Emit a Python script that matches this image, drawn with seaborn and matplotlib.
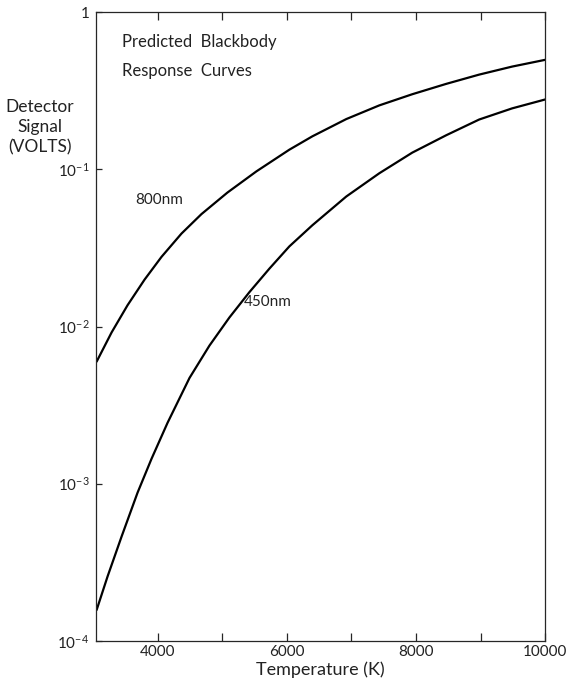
import numpy as np
import pandas as pd
import matplotlib
matplotlib.use('Agg')
import matplotlib.pyplot as plt
import seaborn as sns

# values (temperature in K, signal in volts)
temp_800 = [3057, 3289, 3536, 3799, 4062, 4371, 4680, 5082, 5531, 6041,
            6397, 6922, 7433, 7943, 8469, 8979, 9489, 10000]
volts_800 = [0.00598, 0.00918, 0.01368, 0.0199, 0.0278, 0.0391, 0.0520, 0.0713,
             0.0973, 0.1337, 0.1626, 0.2094, 0.2559, 0.3013, 0.3508, 0.4018,
             0.4519, 0.4989]

temp_450 = [3057, 3227, 3443, 3691, 3907, 4155, 4495, 4804, 5113, 5422,
            5732, 6041, 6397, 6922, 7433, 7943, 8469, 8979, 9489, 10000]
volts_450 = [1.57e-4, 2.57e-4, 4.60e-4, 8.77e-4, 1.44e-3, 2.44e-3, 4.71e-3, 7.57e-3,
             0.01143, 0.01656, 0.02339, 0.0324, 0.04416, 0.0673, 0.0946, 0.128,
             0.1652, 0.208, 0.2449, 0.279]

y_ticks = [1e-4, 1e-3, 1e-2, 1e-1, 1]
y_labels = ['$10^{-4}$', '$10^{-3}$', '$10^{-2}$', '$10^{-1}$', '1']
x_ticks = [4000, 5000, 6000, 7000, 8000, 9000, 10000]
x_labels = ['4000', '', '6000', '', '8000', '', '10000']

df = pd.concat([
    pd.DataFrame({'temp': temp_800, 'volts': volts_800, 'wl': '800nm'}),
    pd.DataFrame({'temp': temp_450, 'volts': volts_450, 'wl': '450nm'}),
])

sns.set_style('ticks')
plt.rcParams['font.family'] = ['Lato', 'DejaVu Sans']
plt.rcParams['mathtext.fontset'] = 'custom'
plt.rcParams['mathtext.rm'] = 'Lato'
plt.rcParams['mathtext.it'] = 'Lato'

txt = '#222222'
fig = plt.figure(figsize=(5.69, 6.89), dpi=100)
ax = fig.add_axes([0.169, 0.070, 0.789, 0.912])

sns.lineplot(data=df, x='temp', y='volts', units='wl', estimator=None,
             color='black', linewidth=1.6, ax=ax, legend=False)

ax.set_yscale('log')
ax.set_xlim(3050, 10000)
ax.set_ylim(1e-4, 1)
ax.set_yticks(y_ticks)
ax.set_yticklabels(y_labels)
ax.yaxis.set_minor_locator(matplotlib.ticker.NullLocator())
ax.set_xticks(x_ticks)
ax.set_xticklabels(x_labels)

ax.tick_params(axis='x', direction='in', top=True, length=6, width=0.9,
               labelsize=11, labelcolor=txt, pad=3)
ax.tick_params(axis='y', direction='in', length=4, width=0.9,
               labelsize=11, labelcolor=txt, pad=5)
for s in ax.spines.values():
    s.set_linewidth(0.9)

ax.set_xlabel('Temperature (K)', fontsize=13, color=txt, labelpad=2)
ax.set_ylabel('')
fig.text(0.07, 0.815, 'Detector\nSignal\n(VOLTS)', fontsize=12.5, color=txt,
         ha='center', va='center', linespacing=1.3)

ax.text(0.058, 0.93, 'Predicted  Blackbody\nResponse  Curves', transform=ax.transAxes,
        fontsize=12, color=txt, ha='left', va='center', linespacing=2.0)
ax.text(3660, 0.064, '800nm', fontsize=11, color=txt, ha='left', va='center')
ax.text(5330, 0.0144, '450nm', fontsize=11, color=txt, ha='left', va='center')

fig.savefig('out.png', dpi=100)
